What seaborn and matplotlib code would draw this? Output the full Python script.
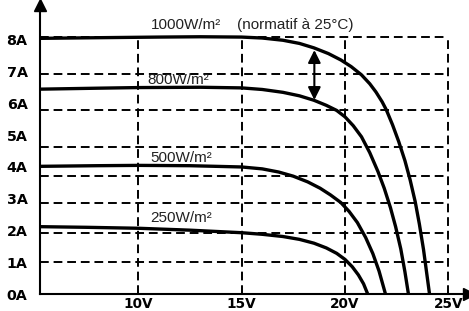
import numpy as np
import pandas as pd
import matplotlib.pyplot as plt
import seaborn as sns

# -------------------------
# Data (voltage V, current A)
# -------------------------
v_1000 = [5.25, 8, 11, 13, 15.0, 16.0, 17.0, 17.8, 18.5, 19.2, 19.8, 20.3, 20.8, 21.2, 21.5, 21.8,
          22.0, 22.3, 22.6, 22.9, 23.15, 23.4, 23.6, 23.8, 24.09]
i_1000 = [8.05, 8.07, 8.09, 8.10, 8.09, 8.06, 7.99, 7.89, 7.75, 7.57, 7.37, 7.16, 6.90, 6.62, 6.36, 6.05,
          5.80, 5.33, 4.80, 4.20, 3.60, 2.90, 2.20, 1.40, 0]

v_800 = [5.25, 8, 10, 13, 15.0, 16.0, 17.0, 17.8, 18.5, 19.1, 19.6, 20.0, 20.4, 20.8, 21.2, 21.6,
         21.9, 22.2, 22.45, 22.7, 22.9, 23.07]
i_800 = [6.45, 6.48, 6.50, 6.51, 6.49, 6.44, 6.35, 6.24, 6.10, 5.94, 5.78, 5.58, 5.30, 4.95, 4.45, 3.85,
         3.33, 2.72, 2.12, 1.42, 0.70, 0]

v_500 = [5.25, 8, 10, 12.5, 15.0, 16.0, 16.8, 17.5, 18.2, 18.8, 19.3, 19.8, 20.2, 20.6, 21.0, 21.35,
         21.65, 21.96]
i_500 = [4.02, 4.04, 4.05, 4.04, 4.00, 3.94, 3.84, 3.71, 3.53, 3.33, 3.12, 2.88, 2.60, 2.25, 1.78, 1.27,
         0.72, 0]

v_250 = [5.25, 7.5, 10, 12.5, 15, 16, 17, 17.8, 18.5, 19.1, 19.6, 20.0, 20.35, 20.65, 20.9, 21.1]
i_250 = [2.12, 2.10, 2.07, 2.01, 1.93, 1.88, 1.81, 1.72, 1.60, 1.45, 1.28, 1.09, 0.86, 0.60, 0.32, 0]

curve_labels = ["1000W/m²", "800W/m²", "500W/m²", "250W/m²"]
label_v = [10.6, 10.45, 10.6, 10.6]
label_i = [8.47, 6.74, 4.28, 2.39]

grid_i = [8.09, 6.93, 5.79, 4.62, 3.73, 2.85, 1.93, 1.0]
grid_v = [10, 15, 20, 25]

yticks = [0, 1, 2, 3, 4, 5, 6, 7, 8]
ytick_labels = ["0A", "1A", "2A", "3A", "4A", "5A", "6A", "7A", "8A"]
xticks = [10, 15, 20, 25]
xtick_labels = ["10V", "15V", "20V", "25V"]

df = pd.concat([
    pd.DataFrame({"V": v, "I": i, "irr": lab})
    for v, i, lab in zip([v_1000, v_800, v_500, v_250],
                         [i_1000, i_800, i_500, i_250], curve_labels)
])

# -------------------------
# Plot
# -------------------------
sns.set_style("white")
plt.rcParams["font.family"] = ["DejaVu Sans"]

fig = plt.figure(figsize=(4.69, 3.11), dpi=100)
ax = fig.add_axes([40 / 469, 17 / 311, 429 / 469, 289 / 311])

x_left, x_right = 5.25, 26.0
y_top = 9.1

# dashed grid box
ax.hlines(grid_i, x_left, 25, colors="black", linestyles=(0, (4.5, 2.5)), lw=1.4)
ax.vlines(grid_v, 0, grid_i[0], colors="black", linestyles=(0, (4.5, 2.5)), lw=1.4)

for lab in curve_labels:
    sns.lineplot(data=df[df["irr"] == lab], x="V", y="I", color="black",
                 lw=2.4, sort=False, estimator=None, ax=ax,
                 solid_joinstyle="round", solid_capstyle="round")

for lab, tv, ti in zip(curve_labels, label_v, label_i):
    ax.text(tv, ti, lab, fontsize=11, family="Liberation Sans",
            color="#222222", va="center", ha="left")
ax.text(14.8, 8.47, "(normatif à 25°C)", fontsize=11, family="Liberation Sans",
        color="#222222", va="center", ha="left")

# double arrow between 1000 and 800 curves
ax.annotate("", xy=(18.52, 7.68), xytext=(18.52, 6.11),
            arrowprops=dict(arrowstyle="<|-|>", color="black", lw=1.5,
                            mutation_scale=19, shrinkA=0, shrinkB=0))

ax.set_xlim(x_left, x_right)
ax.set_ylim(0, y_top)
ax.set_xticks(xticks)
ax.set_xticklabels(xtick_labels, fontweight="bold", fontsize=9.8)
ax.set_yticks(yticks)
ax.set_yticklabels(ytick_labels, fontweight="bold", fontsize=10.3)
ax.tick_params(axis="both", length=0, colors="black")
ax.tick_params(axis="y", pad=9)
ax.tick_params(axis="x", pad=2)
ax.set_xlabel("")
ax.set_ylabel("")

for s in ["top", "right"]:
    ax.spines[s].set_visible(False)
for s in ["left", "bottom"]:
    ax.spines[s].set_color("black")
    ax.spines[s].set_linewidth(1.5)

# axis arrow heads
ax.plot(0, 1, marker="^", color="black", ms=9, transform=ax.transAxes, clip_on=False)
ax.plot(1, 0, marker=">", color="black", ms=9, transform=ax.transAxes, clip_on=False)

fig.savefig("out.png", dpi=100)
